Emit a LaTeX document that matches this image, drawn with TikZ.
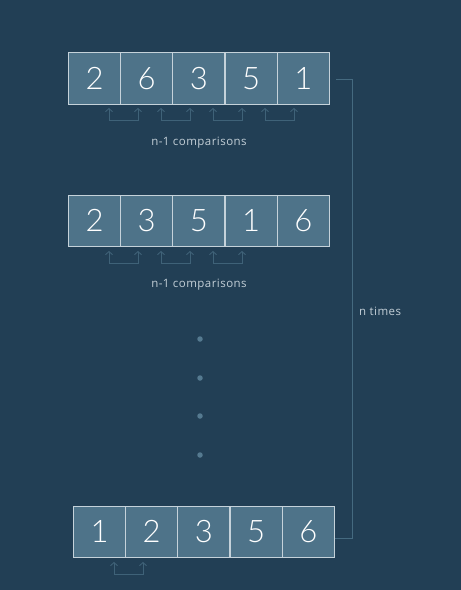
\documentclass[tikz,border=0pt]{standalone}
\usepackage{fontspec}
\setmainfont{Lato}
\newfontfamily\thinfont{Lato Light}
\newfontfamily\labelfont[LetterSpace=4]{Open Sans}
\usetikzlibrary{arrows.meta}
\definecolor{bg}{HTML}{223F55}
\definecolor{cellfill}{HTML}{4E7389}
\definecolor{cellline}{HTML}{C5D2DA}
\definecolor{cmp}{HTML}{3F6278}
\definecolor{brk}{HTML}{456A80}
\definecolor{lbl}{HTML}{C3CFD7}
\definecolor{dotc}{HTML}{557A90}
\tikzset{
  cell/.style={draw=cellline, line width=0.9pt, fill=cellfill, minimum width=52pt, minimum height=51.5pt, inner sep=0pt, outer sep=0pt, font=\thinfont\fontsize{31}{31}\selectfont, text=white, anchor=north west},
  cmparrow/.style={draw=cmp, line width=0.9pt, {Straight Barb[length=3pt,width=7pt]}-{Straight Barb[length=3pt,width=7pt]}},
  bracket/.style={draw=brk, line width=0.9pt},
  label/.style={text=lbl, font=\labelfont\fontsize{11.5}{12}\selectfont, inner sep=0pt},
  vdot/.style={circle, fill=dotc, minimum size=5.5pt, inner sep=0pt}
}
\begin{document}
\begin{tikzpicture}[x=1pt,y=-1pt]
\fill[bg] (0,0) rectangle (461,590);
\useasboundingbox (0,0) rectangle (461,590);
% row 1
\node[cell] (a1) at (68.5,52.5) {2};
\node[cell] (a2) at (120.7,52.5) {6};
\node[cell] (a3) at (172.9,52.5) {3};
\node[cell] (a4) at (225.1,52.5) {5};
\node[cell] (a5) at (277.3,52.5) {1};
% row 2
\node[cell] (b1) at (68.5,195) {2};
\node[cell] (b2) at (120.7,195) {3};
\node[cell] (b3) at (172.9,195) {5};
\node[cell] (b4) at (225.1,195) {1};
\node[cell] (b5) at (277.3,195) {6};
% row 3
\node[cell] (c1) at (73.5,506) {1};
\node[cell] (c2) at (125.7,506) {2};
\node[cell] (c3) at (177.9,506) {3};
\node[cell] (c4) at (230.1,506) {5};
\node[cell] (c5) at (282.3,506) {6};
% comparison arrows row 1
\foreach \x/\i in {109/1,161/2,213/3,265/4}{
  \coordinate (p\i l) at (\x,108);
  \coordinate (p\i r) at (\x+29,108);
  \draw[cmparrow] (p\i l) -- ++(0,12) -| (p\i r);
}
\node[label] (t1) at (199,142.5) {n-1 comparisons};
% row 2
\foreach \x/\i in {109/1,161/2,213/3}{
  \coordinate (q\i l) at (\x,251);
  \coordinate (q\i r) at (\x+29,251);
  \draw[cmparrow] (q\i l) -- ++(0,12) -| (q\i r);
}
\node[label] (t2) at (199,284.5) {n-1 comparisons};
% row 3
\coordinate (r1l) at (114,562);
\coordinate (r1r) at (143,562);
\draw[cmparrow] (r1l) -- ++(0,12) -| (r1r);
% dots
\foreach \y/\i in {339/1,378/2,416/3,455/4}{
  \node[vdot] (d\i) at (200,\y) {};
}
% bracket
\coordinate (bt) at (352,79.5);
\coordinate (bb) at (352,538);
\draw[bracket] ([xshift=7pt]a5.east |- bt) -- (bt) -- (bb) -- ([xshift=1pt]c5.east |- bb);
\node[label, anchor=west] (nt) at (359,311.5) {n times};
\end{tikzpicture}
\end{document}
